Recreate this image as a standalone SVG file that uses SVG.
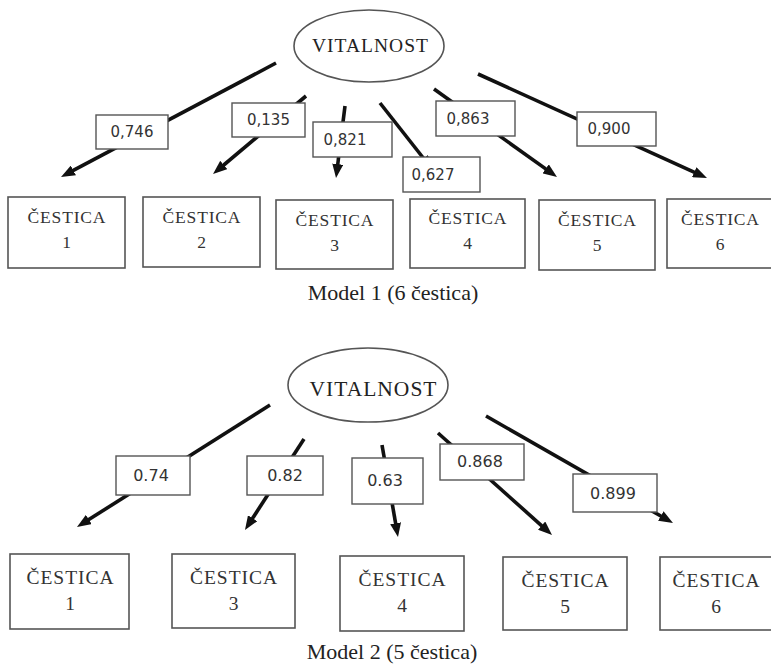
<svg xmlns="http://www.w3.org/2000/svg" width="771" height="667" viewBox="0 0 771 667">
<style>
.bg{fill:#fff}
.node{fill:#fff;stroke:#555;stroke-width:1.6}
.lbl{fill:#fff;stroke:#555;stroke-width:1.4}
.edge{stroke:#111;stroke-width:3.6;fill:none;marker-end:url(#ah)}
.t1{font-family:"Liberation Serif",serif;font-size:17.5px;fill:#333;text-anchor:middle}
.t2{font-family:"Liberation Serif",serif;font-size:19.5px;fill:#333;text-anchor:middle}
.v1{font-family:"Liberation Serif",serif;font-size:19.5px;fill:#222;text-anchor:middle}
.v2{font-family:"Liberation Serif",serif;font-size:21.5px;fill:#222;text-anchor:middle}
.n1{font-family:"DejaVu Sans",sans-serif;font-size:15px;fill:#333;text-anchor:middle}
.n2{font-family:"DejaVu Sans",sans-serif;font-size:16px;fill:#333;text-anchor:middle}
.cap{font-family:"Liberation Serif",serif;font-size:22px;fill:#222;text-anchor:middle}
</style>
<defs>
<marker id="ah" markerUnits="userSpaceOnUse" markerWidth="14" markerHeight="11" refX="7" refY="5.5" orient="auto">
<path d="M0,0 L14,5.5 L0,11 z" fill="#111"/>
</marker>
</defs>
<rect class="bg" x="0" y="0" width="771" height="667"/>

<g id="connectors">
<line class="edge" x1="276" y1="63" x2="67.2" y2="173.7"/>
<line class="edge" x1="306" y1="96" x2="218.4" y2="169.5"/>
<line class="edge" x1="345" y1="106" x2="336.9" y2="171.1"/>
<line class="edge" x1="380" y1="103" x2="428" y2="164"/>
<line class="edge" x1="434" y1="89" x2="551.3" y2="172.9"/>
<line class="edge" x1="478" y1="74" x2="700.6" y2="175.1"/>

<line class="edge" x1="270" y1="405" x2="82.9" y2="523.3"/>
<line class="edge" x1="304" y1="439" x2="248.8" y2="524.1"/>
<line class="edge" x1="382" y1="445" x2="396.8" y2="530.1"/>
<line class="edge" x1="438" y1="433" x2="546.8" y2="530.3"/>
<line class="edge" x1="486" y1="416" x2="666.9" y2="519.5"/>

<g id="labels1">
<rect class="lbl" x="96" y="115" width="72" height="34"/><text class="n1" x="132" y="137">0,746</text>
<rect class="lbl" x="232" y="103" width="73" height="34"/><text class="n1" x="268.5" y="125">0,135</text>
<rect class="lbl" x="313" y="122" width="79" height="35"/><text class="n1" x="345" y="145">0,821</text>
<rect class="lbl" x="403" y="157" width="77" height="35"/><text class="n1" x="433" y="180">0,627</text>
<rect class="lbl" x="436" y="101" width="79" height="35"/><text class="n1" x="468" y="124">0,863</text>
<rect class="lbl" x="577" y="112" width="79" height="34"/><text class="n1" x="609" y="134">0,900</text>
</g>
<g id="labels2">
<rect class="lbl" x="116" y="456" width="74" height="39"/><text class="n2" x="151" y="481">0.74</text>
<rect class="lbl" x="247" y="456" width="76" height="39"/><text class="n2" x="285" y="481">0.82</text>
<rect class="lbl" x="352" y="458" width="71" height="46"/><text class="n2" x="385" y="486">0.63</text>
<rect class="lbl" x="440" y="444" width="84" height="36"/><text class="n2" x="480" y="467">0.868</text>
<rect class="lbl" x="573" y="474" width="84" height="38"/><text class="n2" x="613" y="499">0.899</text>
</g>
</g>

<g id="vitalnost1">
<ellipse cx="369" cy="46" rx="75" ry="36" fill="#fff" stroke="#555" stroke-width="1.6"/>
<text class="v1" x="370" y="52" textLength="116" lengthAdjust="spacing">VITALNOST</text>
</g>
<g id="m1c1"><rect class="node" x="8" y="197" width="117" height="71"/><text class="t1" x="66.5" y="223" textLength="78" lengthAdjust="spacing">ČESTICA</text><text class="t1" x="66.5" y="248">1</text></g>
<g id="m1c2"><rect class="node" x="143" y="197" width="117" height="70"/><text class="t1" x="201.5" y="223" textLength="78" lengthAdjust="spacing">ČESTICA</text><text class="t1" x="201.5" y="248">2</text></g>
<g id="m1c3"><rect class="node" x="276" y="200" width="117" height="69"/><text class="t1" x="334.5" y="226" textLength="78" lengthAdjust="spacing">ČESTICA</text><text class="t1" x="334.5" y="251">3</text></g>
<g id="m1c4"><rect class="node" x="410" y="199" width="115" height="69"/><text class="t1" x="467.5" y="224" textLength="78" lengthAdjust="spacing">ČESTICA</text><text class="t1" x="467.5" y="249">4</text></g>
<g id="m1c5"><rect class="node" x="539" y="200" width="116" height="70"/><text class="t1" x="597" y="226" textLength="78" lengthAdjust="spacing">ČESTICA</text><text class="t1" x="597" y="251">5</text></g>
<g id="m1c6"><rect class="node" x="667" y="199" width="110" height="69"/><text class="t1" x="720" y="225" textLength="78" lengthAdjust="spacing">ČESTICA</text><text class="t1" x="720" y="250">6</text></g>
<text class="cap" x="393" y="300">Model 1 (6 čestica)</text>

<g id="vitalnost2">
<ellipse cx="368" cy="385" rx="80" ry="37" fill="#fff" stroke="#555" stroke-width="1.6"/>
<text class="v2" x="373" y="396" textLength="127" lengthAdjust="spacing">VITALNOST</text>
</g>
<g id="m2c1"><rect class="node" x="10" y="554" width="119" height="75"/><text class="t2" x="70" y="584" textLength="87" lengthAdjust="spacing">ČESTICA</text><text class="t2" x="70" y="610">1</text></g>
<g id="m2c3"><rect class="node" x="172" y="554" width="123" height="74"/><text class="t2" x="233.5" y="584" textLength="87" lengthAdjust="spacing">ČESTICA</text><text class="t2" x="233.5" y="610">3</text></g>
<g id="m2c4"><rect class="node" x="340" y="556" width="124" height="75"/><text class="t2" x="402" y="586" textLength="87" lengthAdjust="spacing">ČESTICA</text><text class="t2" x="402" y="612">4</text></g>
<g id="m2c5"><rect class="node" x="503" y="557" width="124" height="73"/><text class="t2" x="565" y="587" textLength="87" lengthAdjust="spacing">ČESTICA</text><text class="t2" x="565" y="613">5</text></g>
<g id="m2c6"><rect class="node" x="660" y="557" width="116" height="73"/><text class="t2" x="716" y="587" textLength="87" lengthAdjust="spacing">ČESTICA</text><text class="t2" x="716" y="613">6</text></g>
<text class="cap" x="392" y="659">Model 2 (5 čestica)</text>
</svg>
